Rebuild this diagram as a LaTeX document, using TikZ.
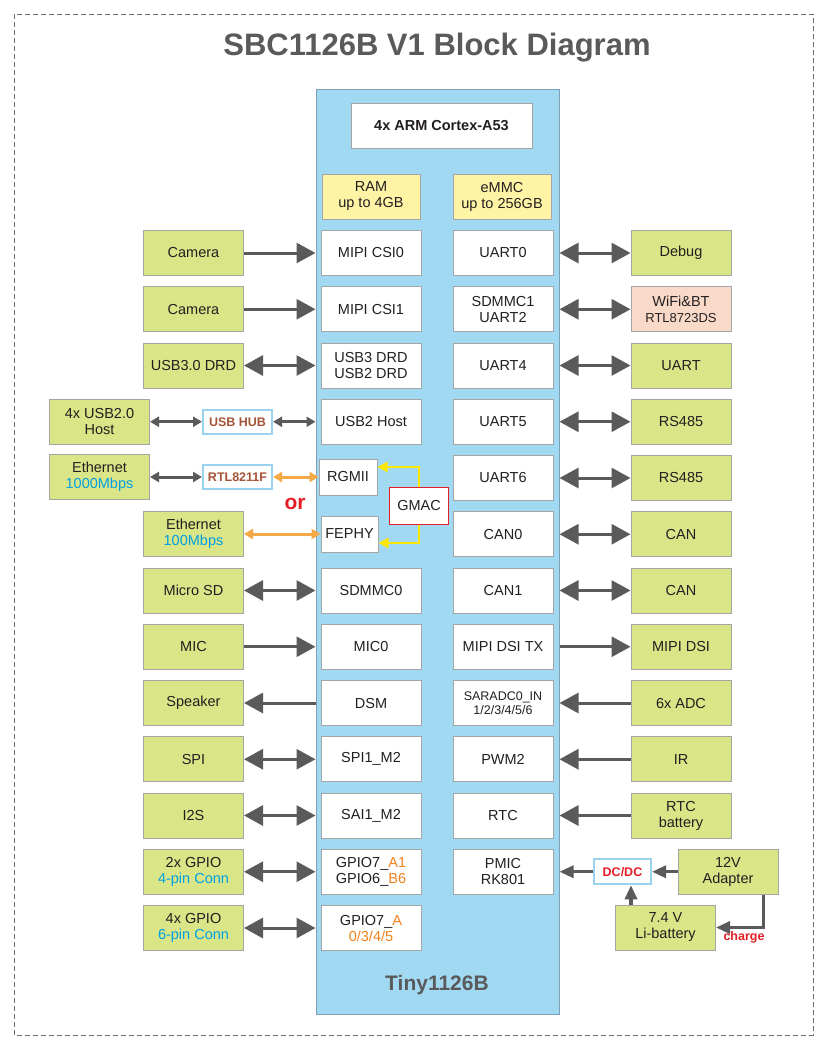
\documentclass[tikz,border=0pt]{standalone}
\usepackage{fontspec}
\setmainfont{Liberation Sans}
\usetikzlibrary{arrows.meta,positioning,calc}
\definecolor{sbcgreen}{RGB}{217,229,135}
\definecolor{sbcblue}{RGB}{161,217,243}
\definecolor{sbcbedge}{RGB}{125,160,180}
\definecolor{sbcyellow}{RGB}{255,243,165}
\definecolor{sbcsalmon}{RGB}{249,218,201}
\definecolor{sbcedge}{RGB}{165,165,165}
\definecolor{sbcgray}{RGB}{90,90,90}
\definecolor{sbctext}{RGB}{35,31,32}
\definecolor{sbcred}{RGB}{228,30,38}
\definecolor{sbcorange}{RGB}{245,168,70}
\definecolor{sbcamber}{RGB}{240,130,30}
\definecolor{sbccyan}{RGB}{0,160,226}
\definecolor{sbcbrown}{RGB}{165,85,55}
\definecolor{sbchub}{RGB}{155,210,240}
\definecolor{sbcgold}{RGB}{255,232,0}
\definecolor{sbctitle}{RGB}{90,90,90}
\definecolor{sbcdash}{RGB}{110,110,110}
\begin{document}
\begin{tikzpicture}[x=1pt, y=-1pt, font=\fontsize{14.5}{16}\selectfont,
	   ib/.style={draw=sbcedge, fill=white, line width=1pt, align=center, inner sep=1pt, minimum width=100pt, minimum height=45pt, text=sbctext},
	   ob/.style={ib, fill=sbcgreen},
	   mb/.style={ib, fill=sbcyellow, minimum width=98pt},
	   cb/.style={draw=sbchub, fill=white, line width=2pt, font=\fontsize{12.5}{14}\selectfont\bfseries, inner sep=1pt, minimum width=69pt, minimum height=24pt},
	   ar/.style={draw=sbcgray, line width=3pt, -{Triangle[length=19pt,width=20pt]}},
	   da/.style={ar, {Triangle[length=19pt,width=20pt]}-{Triangle[length=19pt,width=20pt]}},
	   sa/.style={draw=sbcgray, line width=3pt, {Triangle[length=9pt,width=10pt]}-{Triangle[length=9pt,width=10pt]}},
	   oa/.style={sa, draw=sbcorange},
	   ma/.style={draw=sbcgray, line width=3.2pt, -{Triangle[length=14pt,width=12pt]}},
	   ya/.style={draw=sbcgold, line width=2.5pt, -{Triangle[length=10pt,width=10pt]}}]
	  \useasboundingbox (0,0) rectangle (828,1050);
	  \draw[sbcdash, line width=0.8pt, dash pattern=on 5pt off 3pt] (14,14) rectangle (813,1035);
	  \node[text=sbctitle, font=\fontsize{31}{35}\selectfont\bfseries] (title) at (437,48) {SBC1126B V1 Block Diagram};
	  \node[draw=sbcbedge, fill=sbcblue, line width=1pt, minimum width=243pt, minimum height=925pt] (tiny) at (437.5,551.5) {};
	  \node[text=sbctitle, font=\fontsize{21}{25}\selectfont\bfseries] (name) at (437,985) {Tiny1126B};
	  \node[ib, minimum width=181pt, font=\fontsize{14.5}{16}\selectfont\bfseries] (cpu) at (441.5,125.5) {4x ARM Cortex-A53};
	  \node[mb] (ram) at (371,196.5) {RAM\\up to 4GB};
	  \node[mb] (emmc) at (502,196.5) {eMMC\\up to 256GB};
	  % left side of the SoM
	  \node[ib] (csi0) at (371,253) {MIPI CSI0};
	  \node[ib] (csi1) at (371,309.25) {MIPI CSI1};
	  \node[ib] (usb3) at (371,365.5) {USB3 DRD\\USB2 DRD};
	  \node[ib] (usb2) at (371,421.75) {USB2 Host};
	  \node[ib, minimum width=58pt, minimum height=36pt] (rgmii) at (348,477) {RGMII};
	  \node[ib, minimum width=57pt, minimum height=36pt] (fephy) at (349.5,534) {FEPHY};
	  \node[ib, draw=sbcred, minimum width=59pt, minimum height=37pt] (gmac) at (419,505.5) {GMAC};
	  \node[ib] (sdmmc0) at (371,590.5) {SDMMC0};
	  \node[ib] (mic0) at (371,646.75) {MIC0};
	  \node[ib] (dsm) at (371,703) {DSM};
	  \node[ib] (spi1) at (371,759.25) {SPI1\_M2};
	  \node[ib] (sai1) at (371,815.5) {SAI1\_M2};
	  \node[ib] (gpioa) at (371,871.75) {GPIO7\_\textcolor{sbcamber}{A1}\\GPIO6\_\textcolor{sbcamber}{B6}};
	  \node[ib] (gpiob) at (371,928) {GPIO7\_\textcolor{sbcamber}{A}\\\textcolor{sbcamber}{0/3/4/5}};
	  % right side of the SoM
	  \node[ib] (uart0) at (503,253) {UART0};
	  \node[ib] (sdmmc1) at (503,309.25) {SDMMC1\\UART2};
	  \node[ib] (uart4) at (503,365.5) {UART4};
	  \node[ib] (uart5) at (503,421.75) {UART5};
	  \node[ib] (uart6) at (503,478) {UART6};
	  \node[ib] (can0) at (503,534.25) {CAN0};
	  \node[ib] (can1) at (503,590.5) {CAN1};
	  \node[ib] (dsitx) at (503,646.75) {MIPI DSI TX};
	  \node[ib, font=\fontsize{12.5}{14}\selectfont] (adc) at (503,703) {SARADC0\_IN\\1/2/3/4/5/6};
	  \node[ib] (pwm2) at (503,759.25) {PWM2};
	  \node[ib] (rtc) at (503,815.5) {RTC};
	  \node[ib] (pmic) at (503,871.75) {PMIC\\RK801};
	  % peripherals, left
	  \node[ob] (cam0) at (193.5,253) {Camera};
	  \node[ob] (cam1) at (193.5,309.25) {Camera};
	  \node[ob] (usb3c) at (193.5,365.5) {USB3.0 DRD};
	  \node[ob] (usb2c) at (99.5,421.75) {4x USB2.0\\Host};
	  \node[ob] (eth1g) at (99.5,477) {Ethernet\\\textcolor{sbccyan}{1000Mbps}};
	  \node[ob] (eth100) at (193.5,534) {Ethernet\\\textcolor{sbccyan}{100Mbps}};
	  \node[ob] (sdc) at (193.5,590.5) {Micro SD};
	  \node[ob] (mic) at (193.5,646.75) {MIC};
	  \node[ob] (spk) at (193.5,703) {Speaker};
	  \node[ob] (spi) at (193.5,759.25) {SPI};
	  \node[ob] (i2s) at (193.5,815.5) {I2S};
	  \node[ob] (gpio2) at (193.5,871.75) {2x GPIO\\\textcolor{sbccyan}{4-pin Conn}};
	  \node[ob] (gpio4) at (193.5,928) {4x GPIO\\\textcolor{sbccyan}{6-pin Conn}};
	  \node[cb, text=sbcbrown] (hub) at (237.5,421.75) {USB HUB};
	  \node[cb, text=sbcbrown] (phy) at (237.5,477) {RTL8211F};
	  \node[text=sbcred, font=\fontsize{21}{24}\selectfont\bfseries] (or) at (295,504) {or};
	  % peripherals, right
	  \node[ob] (dbg) at (681,253) {Debug};
	  \node[ob, fill=sbcsalmon] (wifi) at (681,309.25) {WiFi\&BT\\{\fontsize{13}{15}\selectfont RTL8723DS}};
	  \node[ob] (uartc) at (681,365.5) {UART};
	  \node[ob] (rs1) at (681,421.75) {RS485};
	  \node[ob] (rs2) at (681,478) {RS485};
	  \node[ob] (canc0) at (681,534.25) {CAN};
	  \node[ob] (canc1) at (681,590.5) {CAN};
	  \node[ob] (dsi) at (681,646.75) {MIPI DSI};
	  \node[ob] (adcc) at (681,703) {6x ADC};
	  \node[ob] (ir) at (681,759.25) {IR};
	  \node[ob] (rtcb) at (681,815.5) {RTC\\battery};
	  \node[cb, text=sbcred, minimum width=57pt, minimum height=25pt] (dcdc) at (622.5,871.75) {DC/DC};
	  \node[ob] (adp) at (728,871.75) {12V\\Adapter};
	  \node[ob] (bat) at (665.5,927.5) {7.4 V\\Li-battery};
	  \node[text=sbcred, font=\fontsize{12.5}{14}\selectfont\bfseries] (chg) at (744,937) {charge};
	  \coordinate (batup) at ([xshift=16pt]bat.north west);
	  \coordinate (adpdn) at ([xshift=-15pt]adp.south east);
	  % connectors
	  \draw[ar] (cam0.east) -- (cam0.east -| tiny.west); \draw[ar] (cam1.east) -- (cam1.east -| tiny.west);
	  \draw[da] (usb3c.east) -- (usb3c.east -| tiny.west);
	  \draw[sa] (usb2c.east) -- (hub.west); \draw[sa] (hub.east) -- (hub.east -| tiny.west);
	  \draw[sa] (eth1g.east) -- (phy.west); \draw[oa] (phy.east) -- (rgmii.west);
	  \draw[oa] (eth100.east) -- (fephy.west);
	  \draw[ya] (gmac.north) |- ([yshift=10pt]rgmii.east); \draw[ya] (gmac.south) |- ([yshift=-9pt]fephy.east);
	  \draw[da] (sdc.east) -- (sdc.east -| tiny.west);
	  \draw[ar] (mic.east) -- (mic.east -| tiny.west);
	  \draw[ar] (spk.east -| tiny.west) -- (spk.east);
	  \draw[da] (spi.east) -- (spi.east -| tiny.west); \draw[da] (i2s.east) -- (i2s.east -| tiny.west);
	  \draw[da] (gpio2.east) -- (gpio2.east -| tiny.west); \draw[da] (gpio4.east) -- (gpio4.east -| tiny.west);
	  \draw[da] (dbg.west -| tiny.east) -- (dbg.west); \draw[da] (wifi.west -| tiny.east) -- (wifi.west);
	  \draw[da] (uartc.west -| tiny.east) -- (uartc.west);
	  \draw[da] (rs1.west -| tiny.east) -- (rs1.west); \draw[da] (rs2.west -| tiny.east) -- (rs2.west);
	  \draw[da] (canc0.west -| tiny.east) -- (canc0.west); \draw[da] (canc1.west -| tiny.east) -- (canc1.west);
	  \draw[ar] (dsi.west -| tiny.east) -- (dsi.west);
	  \draw[ar] (adcc.west) -- (adcc.west -| tiny.east); \draw[ar] (ir.west) -- (ir.west -| tiny.east);
	  \draw[ar] (rtcb.west) -- (rtcb.west -| tiny.east);
	  \draw[ma] (adp.west) -- (dcdc.east); \draw[ma] (dcdc.west) -- (dcdc.west -| tiny.east);
	  \draw[ma] (batup) -- (batup |- dcdc.south); \draw[ma] (adpdn) |- (bat.east);
	\end{tikzpicture}
\end{document}
